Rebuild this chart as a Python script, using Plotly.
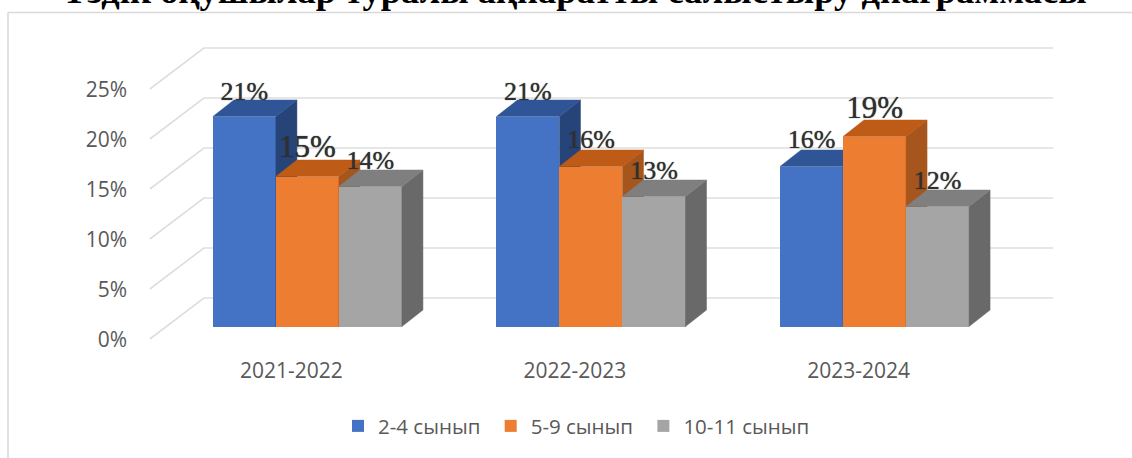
import plotly.graph_objects as go

# ---- data ----
years = ["2021-2022", "2022-2023", "2023-2024"]
series_names = ["2-4 сынып\u00a0", "5-9 сынып\u00a0", "10-11 сынып"]
values_a = [21, 21, 16]
values_b = [15, 16, 19]
values_c = [14, 13, 12]
y_ticks = [0, 5, 10, 15, 20, 25]
title_text = "Үздік оқушылар туралы ақпаратты салыстыру диаграммасы"

front_colors = ["#4472C4", "#ED7D31", "#A5A5A5"]
top_colors = ["#2F5597", "#BE5B17", "#7F7F7F"]
side_colors = ["#264478", "#A6561C", "#696969"]
label_sizes = [[26, 26, 26], [31, 26, 31], [26, 26, 26]]
label_lift = [[2.35, 2.35, 2.5], [2.7, 2.5, 2.65], [2.45, 2.45, 2.45]]
GREY = "#595959"

# ---- geometry (category units / value units) ----
U = 283.5                 # px per category step
BAR_W = 63 / U
DX = 21 / U               # bar depth offset
DV = 1.65                 # bar depth offset in value units
WALL_F, WALL_B, WALL_R = -0.5556, -0.365, 2.63
G_F, G_B = -1.25, 2.85    # gridline offsets at the front and the back of the floor
LABEL_SHIFT = -16 / U

all_vals = [values_a, values_b, values_c]
fig = go.Figure()

# gridlines on the base axes, below every bar layer
gx, gy = [], []
for g in y_ticks:
    gx += [WALL_F, WALL_B, WALL_R, None]
    gy += [g + G_F, g + G_B, g + G_B, None]
fig.add_trace(go.Scatter(x=gx, y=gy, mode="lines", line=dict(color="#DEDEDE", width=1.6),
                         showlegend=False, hoverinfo="skip", xaxis="x", yaxis="y"))

for s, vals in enumerate(all_vals):
    ax_x, ax_y = f"x{s + 2}", f"y{s + 2}"
    cx = [i + (s - 1) * BAR_W for i in range(3)]
    fig.add_trace(go.Bar(x=cx, y=vals, width=BAR_W, name=series_names[s],
                         marker=dict(color=front_colors[s], line=dict(width=0)),
                         xaxis=ax_x, yaxis=ax_y, hovertemplate="%{y}%<extra>" + series_names[s] + "</extra>"))
    tx, ty, sx, sy = [], [], [], []
    for c, v in zip(cx, vals):
        l, r = c - BAR_W / 2, c + BAR_W / 2
        tx += [l, l + DX, r + DX, r, l, None]
        ty += [v, v + DV, v + DV, v, v, None]
        sx += [r, r + DX, r + DX, r, r, None]
        sy += [0, DV, v + DV, v, 0, None]
    for px, py, col in ((sx, sy, side_colors[s]), (tx, ty, top_colors[s])):
        fig.add_trace(go.Scatter(x=px, y=py, mode="lines", fill="toself", fillcolor=col,
                                 line=dict(color=col, width=0.5), showlegend=False,
                                 hoverinfo="skip", xaxis=ax_x, yaxis=ax_y))

# data labels on the top layer
for s, vals in enumerate(all_vals):
    fig.add_trace(go.Scatter(
        x=[i + (s - 1) * BAR_W for i in range(3)],
        y=[v + d for v, d in zip(vals, label_lift[s])],
        mode="text", text=[f"{v}%" for v in vals],
        textposition="middle center",
        textfont=dict(family="Liberation Serif", size=label_sizes[s], color="#303030",
                      shadow="0 0 1px rgba(40,40,40,0.9)"),
        showlegend=False, hoverinfo="skip", xaxis="x5", yaxis="y5"))

x_range = [-0.608, 2.654]
y_range = [-2.55, 29.65]
hidden = dict(visible=False, fixedrange=True)
overlays = {}
for n in (2, 3, 4, 5):
    overlays[f"xaxis{n}"] = dict(overlaying="x", range=x_range, **hidden)
    overlays[f"yaxis{n}"] = dict(overlaying="y", range=y_range, **hidden)

fig.update_layout(
    width=1132, height=458, autosize=False,
    margin=dict(l=135, r=72, t=30, b=106),
    paper_bgcolor="white", plot_bgcolor="white",
    barmode="overlay", bargap=0,
    xaxis=dict(range=x_range, tickmode="array",
               tickvals=[i + LABEL_SHIFT for i in range(3)], ticktext=years,
               showgrid=False, zeroline=False, showline=False, ticks="", fixedrange=True,
               tickfont=dict(family="Open Sans", size=21, color=GREY), ticklabelstandoff=4),
    yaxis=dict(range=y_range, tickmode="array",
               tickvals=[g + G_F - 0.1 for g in y_ticks], ticktext=[f"{g}%" for g in y_ticks],
               showgrid=False, zeroline=False, showline=False, ticks="", fixedrange=True,
               tickfont=dict(family="Open Sans", size=21, color=GREY), ticklabelstandoff=7),
    legend=dict(orientation="h", x=(338 - 135) / 925, xref="paper", y=-0.23, yanchor="middle", xanchor="left",
                font=dict(family="Open Sans", size=20.5, color=GREY), traceorder="normal",
                itemwidth=30, bgcolor="rgba(0,0,0,0)"),
    annotations=[dict(text=title_text, xref="paper", yref="paper", x=(574 - 135) / 925, y=1,
                      xanchor="center", yanchor="bottom", yshift=17, showarrow=False,
                      font=dict(family="Liberation Serif", size=36.5, color="black", weight="bold"))],
    shapes=[dict(type="line", xref="paper", yref="paper", x0=(8 - 135) / 925, x1=(1132 - 135) / 925,
                 y0=(352 - 12.5) / 322, y1=(352 - 12.5) / 322, line=dict(color="#D9D9D9", width=1.5)),
            dict(type="line", xref="paper", yref="paper", x0=(8 - 135) / 925, x1=(8 - 135) / 925,
                 y0=(352 - 12.5) / 322, y1=(352 - 458) / 322, line=dict(color="#D9D9D9", width=1.5))],
    **overlays,
)
fig.write_html("out.html", config={"displayModeBar": False},
               post_script="document.body.style.margin='0';document.body.style.overflow='hidden';")
